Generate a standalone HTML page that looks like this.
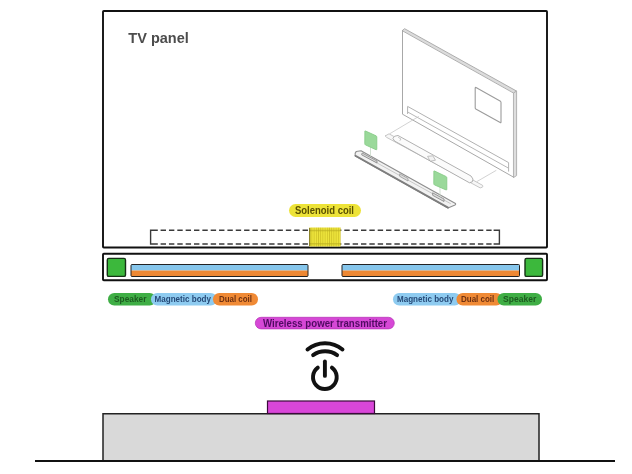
<!DOCTYPE html>
<html><head><meta charset="utf-8">
<style>
html,body{margin:0;padding:0;background:#fff;}
body{width:632px;height:474px;overflow:hidden;position:relative;}
svg{position:absolute;left:0;top:0;filter:blur(0.3px);}
text{font-family:"Liberation Sans",sans-serif;}
</style></head>
<body>
<svg width="632" height="474" viewBox="0 0 632 474">
<rect x="0" y="0" width="632" height="474" fill="#fff"/>

<!-- upper box -->
<rect x="103" y="11" width="444" height="236.5" rx="0.8" fill="none" stroke="#111" stroke-width="1.9"/>
<text x="128.3" y="42.8" font-size="15.5" fill="#4c4c4c" font-weight="bold" textLength="60.5" lengthAdjust="spacingAndGlyphs">TV panel</text>

<!-- TV illustration -->
<g id="tv" fill="none" stroke-linejoin="round" stroke-linecap="round">
<!-- panel face -->
<path d="M402.5 30.4 L402.5 114.2 L513.8 177.3" stroke="#a8a8a8" stroke-width="1"/>
<!-- top face band -->
<path d="M402.5 30.4 L404.6 28.7 L516.6 91.1 L513.8 92.8 Z" fill="#dcdcdc" stroke="#a6a6a6" stroke-width="0.9"/>
<!-- right side face -->
<path d="M513.8 92.8 L516.6 91.1 L516.6 175.6 L513.8 177.3 Z" fill="#dedede" stroke="#ababab" stroke-width="0.9"/>
<!-- vesa rect -->
<path d="M476 87.5 L500.5 101.3 Q501 101.8 501 102.5 L501 122.2 Q501 123 500.2 122.6 L475.8 109 Q475.2 108.6 475.2 108 L475.2 88 Q475.2 87.2 476 87.5 Z" stroke="#9c9c9c" stroke-width="1.1"/>
<!-- slot -->
<path d="M407.6 113.6 L407.6 106.4 L508.6 162.6 L508.6 171.2" stroke="#b2b2b2" stroke-width="1"/>
<path d="M408.2 112.3 L508.6 168.2" stroke="#b8b8b8" stroke-width="1"/>
<!-- projection lines -->
<path d="M390 133.6 L418.5 116.6 M477 181.5 L496 170.5" stroke="#c6c6c6" stroke-width="0.8"/>
<!-- middle bar tray -->
<path d="M385.5 135.8 L389 133.8 L482.5 185.3 Q483.8 186.5 482 187.3 L480.2 187.9 L386.5 137.3 Q385 136.5 385.5 135.8 Z" fill="#f7f7f7" stroke="#c0c0c0" stroke-width="0.9"/>
<!-- middle bar body -->
<path d="M396.5 135.8 L398 135.5 L471 176 Q474.3 179.2 472.3 181.8 L469.5 182.8 L394.5 141 Q391.5 138.2 394 136.6 Z" fill="#fbfbfb" stroke="#a8a8a8" stroke-width="0.9"/>
<path d="M398.5 137.5 L401 139 L400 140.5" stroke="#b0b0b0" stroke-width="0.7"/>
<path d="M428 156.3 L432.8 155.8 L435.5 160.2 L430.5 161.2 Z" fill="#f2f2f2" stroke="#a8a8a8" stroke-width="0.7"/>
<!-- lower dark bar -->
<path d="M356.2 151.5 L361 150.8 L455.5 203.5 Q456 204.5 455 205 L448 208 L355.2 156 Q354.5 153 356.2 151.5 Z" fill="#f2f2f2" stroke="#8e8e8e" stroke-width="1.1"/>
<path d="M355.5 155.8 L448 207.6" stroke="#7e7e7e" stroke-width="1.8"/>
<path d="M362 154.6 L450.5 203.6" stroke="#b4b4b4" stroke-width="0.7"/>
<path d="M362.5 153.2 L377 161 L377 163 L362 155 Z" fill="#dcdcdc" stroke="#8c8c8c" stroke-width="0.9"/>
<path d="M400 174 L408 178.5 L408 181 L400 176.5 Z" fill="#dcdcdc" stroke="#999" stroke-width="0.8"/>
<path d="M433 193 L444 199 L444 201.5 L433 195.5 Z" fill="#dcdcdc" stroke="#8c8c8c" stroke-width="0.9"/>
<!-- green parts -->
<path d="M370.5 147 L370.5 156 M440 187 L440 196" stroke="#c8d8c8" stroke-width="0.8"/>
<path d="M364.8 131.5 Q364.5 130.6 365.5 131 L376 135.8 Q376.8 136.2 376.8 137 L376.8 149.2 Q376.8 150 376 149.7 L365.3 144.8 Q364.8 144.5 364.8 144 Z" fill="#9ad99a" stroke="#88cc88" stroke-width="0.9"/>
<path d="M433.8 171.5 Q433.5 170.6 434.5 171 L446 176.5 Q446.8 176.9 446.8 177.7 L446.8 189.4 Q446.8 190.2 446 189.9 L434.3 184.8 Q433.8 184.5 433.8 184 Z" fill="#9ad99a" stroke="#88cc88" stroke-width="0.9"/>
</g>

<!-- dashed rect -->
<g fill="none" stroke="#3a3a3a" stroke-width="1.4">
<path d="M157.8 230.25 L150.6 230.25 L150.6 244 L157.8 244"/>
<path d="M493.6 230.25 L499.4 230.25 L499.4 244 L493.6 244"/>
<path d="M160.6 230.25 H491.6 M160.6 244 H491.6" stroke-dasharray="5.4 2.95"/>
</g>

<!-- solenoid coil -->
<defs><pattern id="coilp" x="309.3" y="0" width="2.2" height="10" patternUnits="userSpaceOnUse"><rect x="0" y="0" width="2.2" height="10" fill="#ede43c"/><rect x="0" y="0" width="0.8" height="10" fill="#cfc227"/></pattern></defs>
<rect x="309.3" y="227.5" width="31.3" height="19" fill="url(#coilp)"/>
<rect x="309.3" y="229.8" width="31.3" height="1.5" fill="#b9ad22" opacity="0.6"/>
<rect x="309.3" y="243" width="31.3" height="1.5" fill="#b9ad22" opacity="0.6"/>
<rect x="309.3" y="228" width="0.9" height="18" fill="#6a6010"/>

<!-- Solenoid label -->
<rect x="289" y="204" width="72" height="13" rx="6.5" fill="#ede338"/>
<text x="295" y="213.7" font-size="10" fill="#5a5000" font-weight="bold" textLength="59" lengthAdjust="spacingAndGlyphs">Solenoid coil</text>

<!-- lower box -->
<rect x="103" y="253.8" width="444" height="26.5" rx="0.8" fill="none" stroke="#111" stroke-width="1.9"/>
<rect x="107.3" y="258.4" width="18.2" height="18" rx="1.5" fill="#3cb83c" stroke="#163016" stroke-width="1.4"/>
<rect x="525" y="258.4" width="17.6" height="18" rx="1.5" fill="#3cb83c" stroke="#163016" stroke-width="1.4"/>
<g>
<rect x="131" y="264.5" width="177" height="6" fill="#86c6ec"/>
<rect x="131" y="270.5" width="177" height="6" fill="#ee8833"/>
<rect x="131" y="264.5" width="177" height="12" rx="1" fill="none" stroke="#222" stroke-width="1"/>
<rect x="342" y="264.5" width="177.5" height="6" fill="#86c6ec"/>
<rect x="342" y="270.5" width="177.5" height="6" fill="#ee8833"/>
<rect x="342" y="264.5" width="177.5" height="12" rx="1" fill="none" stroke="#222" stroke-width="1"/>
</g>

<!-- label pills left -->
<rect x="108" y="293" width="48" height="12.5" rx="6.25" fill="#3fae45"/>
<rect x="151" y="293" width="66" height="12.5" rx="6.25" fill="#8ecbf0"/>
<rect x="213" y="293" width="45" height="12.5" rx="6.25" fill="#f08a35"/>
<text x="114" y="302.2" font-size="8.7" fill="#1c5a1f" font-weight="bold" textLength="32.4" lengthAdjust="spacingAndGlyphs">Speaker</text>
<text x="154.5" y="302.2" font-size="8.7" fill="#264a78" font-weight="bold" textLength="56.5" lengthAdjust="spacingAndGlyphs">Magnetic body</text>
<text x="219" y="302.2" font-size="8.7" fill="#6e3010" font-weight="bold" textLength="33" lengthAdjust="spacingAndGlyphs">Dual coil</text>

<!-- label pills right -->
<rect x="393" y="293" width="68" height="12.5" rx="6.25" fill="#8ecbf0"/>
<rect x="456.5" y="293" width="46" height="12.5" rx="6.25" fill="#f08a35"/>
<rect x="497.5" y="293" width="44.5" height="12.5" rx="6.25" fill="#3fae45"/>
<text x="397" y="302.2" font-size="8.7" fill="#264a78" font-weight="bold" textLength="56.4" lengthAdjust="spacingAndGlyphs">Magnetic body</text>
<text x="461" y="302.2" font-size="8.7" fill="#6e3010" font-weight="bold" textLength="33.3" lengthAdjust="spacingAndGlyphs">Dual coil</text>
<text x="503" y="302.2" font-size="8.7" fill="#1c5a1f" font-weight="bold" textLength="33.2" lengthAdjust="spacingAndGlyphs">Speaker</text>

<!-- wireless pill -->
<rect x="255.3" y="317.3" width="139" height="11.6" rx="5.8" fill="#d648d6" stroke="#b42eb4" stroke-width="0.7"/>
<text x="263" y="326.6" font-size="10.4" fill="#500a62" font-weight="bold" textLength="124" lengthAdjust="spacingAndGlyphs">Wireless power transmitter</text>

<!-- wifi power icon -->
<g fill="none" stroke="#111" stroke-width="3.9" stroke-linecap="round">
<path d="M307.5 349.5 A27.4 27.4 0 0 1 342.5 349.5"/>
<path d="M313.1 355.1 A20.8 20.8 0 0 1 337.1 355.1"/>
<path d="M324.9 361.4 V375.9"/>
<path d="M317.8 367.6 A11.85 11.85 0 1 0 331.9 367.6"/>
</g>

<!-- platform -->
<rect x="103" y="413.75" width="436" height="47" fill="#d9d9d9" stroke="#222" stroke-width="1.5"/>
<rect x="267.5" y="401" width="107" height="12.5" fill="#d946d9" stroke="#3a0a3a" stroke-width="1.2"/>
<line x1="35" y1="461" x2="615" y2="461" stroke="#111" stroke-width="1.9"/>
</svg>
</body></html>
